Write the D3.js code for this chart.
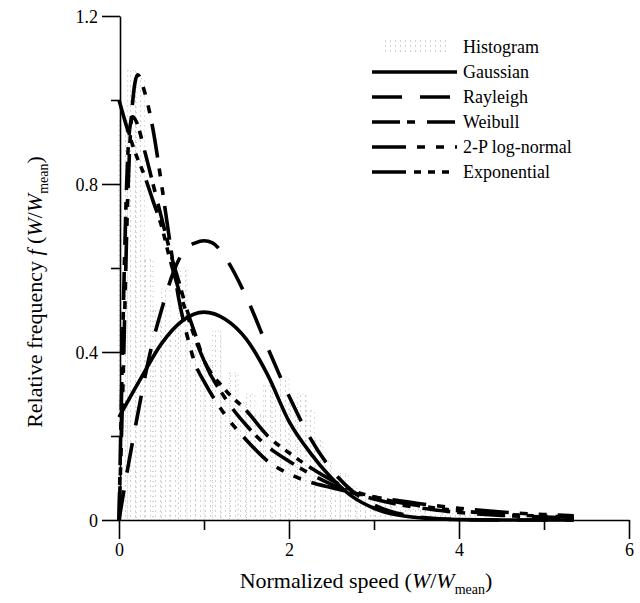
<!DOCTYPE html>
<html>
<head>
<meta charset="utf-8">
<script src="https://cdn.jsdelivr.net/npm/d3@7"></script>
<style>
body{margin:0;background:#fff;}
svg{display:block;font-family:"Liberation Serif","Times New Roman",serif;}
</style>
</head>
<body>
<script>
// histogram bins (start of bin, width 0.1)
var binStarts=[0,0.1,0.2,0.3,0.4,0.5,0.6,0.7,0.8,0.9,1.0,1.1,1.2,1.3,1.4,1.5,1.6,1.7,1.8,1.9,2.0,2.1,2.2,2.3,2.4,2.5,2.6,2.7,2.8,2.9,3.0,3.2,3.4,3.6,3.8,4.0,4.3,4.6,5.0];
var binHeights=[0.95,1.07,1.05,0.62,0.5,0.55,0.45,0.6,0.42,0.4,0.38,0.45,0.3,0.35,0.28,0.3,0.25,0.32,0.3,0.34,0.28,0.3,0.26,0.19,0.14,0.1,0.11,0.08,0.06,0.05,0.04,0.03,0.025,0.02,0.015,0.012,0.01,0.008,0.006];
var binEnds=[0.1,0.2,0.3,0.4,0.5,0.6,0.7,0.8,0.9,1.0,1.1,1.2,1.3,1.4,1.5,1.6,1.7,1.8,1.9,2.0,2.1,2.2,2.3,2.4,2.5,2.6,2.7,2.8,2.9,3.0,3.2,3.4,3.6,3.8,4.0,4.3,4.6,5.0,5.35];

var gaussian=[[0,0.245],[0.25,0.335],[0.5,0.42],[0.75,0.475],[1.0,0.495],[1.25,0.478],[1.5,0.43],[1.75,0.345],[2.0,0.235],[2.25,0.16],[2.5,0.1],[2.75,0.055],[3.0,0.028],[3.25,0.013],[3.5,0.006],[4.0,0.001],[4.5,0],[5.35,0]];
var rayleigh=[[0,0],[0.1,0.12],[0.2,0.23],[0.38,0.41],[0.5,0.5],[0.64,0.59],[0.76,0.64],[0.9,0.66],[1.0,0.665],[1.1,0.66],[1.25,0.625],[1.5,0.53],[1.75,0.41],[2.0,0.295],[2.25,0.195],[2.5,0.12],[2.75,0.068],[3.0,0.036],[3.5,0.008],[4.0,0.001],[4.5,0],[5.35,0]];
var weibull=[[0,0],[0.03,0.3],[0.06,0.58],[0.09,0.8],[0.12,0.92],[0.16,0.96],[0.2,0.95],[0.3,0.88],[0.4,0.8],[0.5,0.72],[0.6,0.64],[0.7,0.57],[0.8,0.5],[0.9,0.44],[1.0,0.38],[1.25,0.29],[1.5,0.225],[1.75,0.175],[2.0,0.14],[2.25,0.11],[2.5,0.085],[2.75,0.065],[3.0,0.05],[3.5,0.03],[4.0,0.018],[4.5,0.011],[5.0,0.007],[5.35,0.005]];
var lognormal=[[0,0],[0.05,0.35],[0.1,0.75],[0.15,0.97],[0.22,1.06],[0.3,1.02],[0.4,0.93],[0.5,0.8],[0.6,0.66],[0.7,0.53],[0.8,0.44],[0.9,0.37],[1.0,0.33],[1.25,0.25],[1.5,0.19],[1.75,0.14],[2.0,0.11],[2.25,0.09],[2.5,0.077],[2.75,0.065],[3.0,0.055],[3.5,0.04],[4.0,0.028],[4.5,0.019],[5.0,0.013],[5.35,0.01]];
var exponential=[[0,1.0],[0.1,0.93],[0.2,0.87],[0.3,0.82],[0.4,0.76],[0.5,0.7],[0.6,0.62],[0.7,0.55],[0.8,0.49],[0.9,0.43],[1.0,0.38],[1.25,0.31],[1.5,0.26],[1.75,0.2],[2.0,0.16],[2.25,0.125],[2.5,0.095],[2.75,0.07],[3.0,0.055],[3.5,0.035],[4.0,0.022],[4.5,0.014],[5.0,0.009],[5.35,0.007]];

var seriesNames=['Gaussian','Rayleigh','Weibull','2-P log-normal','Exponential'];
var seriesData=[gaussian,rayleigh,weibull,lognormal,exponential];
var seriesDash=['none','30,18','28,7,8,12','34,11,8,11,8,11','34,8,7,7,7,7,7,8'];

var xTicks=[0,1,2,3,4,5,6];
var yTicks=[0,0.2,0.4,0.6,0.8,1.0,1.2];

var width=640,height=603;
var svg=d3.select('body').append('svg')
    .attr('width',width)
    .attr('height',height);

// faint stipple used for the histogram bars
var defs=svg.append('defs');
var pat=defs.append('pattern')
    .attr('id','dots')
    .attr('patternUnits','userSpaceOnUse')
    .attr('width',5)
    .attr('height',5);
pat.append('rect').attr('x',0).attr('y',0).attr('width',1).attr('height',2).attr('fill','#d2d2d2');

var xScale=d3.scaleLinear().domain([0,6]).range([119,629]);
var yScale=d3.scaleLinear().domain([0,1.2]).range([520,16]);

// histogram
var hist=svg.append('g').attr('id','hist');
hist.selectAll('rect')
    .data(binStarts)
    .enter()
    .append('rect')
    .attr('x',(d)=>xScale(d))
    .attr('y',(d,i)=>yScale(binHeights[i]))
    .attr('width',(d,i)=>xScale(binEnds[i])-xScale(d))
    .attr('height',(d,i)=>yScale(0)-yScale(binHeights[i]))
    .style('fill','url(#dots)')
    .style('stroke','#c4c4c4')
    .style('stroke-width',1)
    .style('stroke-dasharray','1,4');

// axes
var xAxis=d3.axisBottom(xScale)
    .tickValues(xTicks)
    .tickSize(0)
    .tickFormat('');
var gx=svg.append('g')
    .attr('transform','translate(0,520)')
    .call(xAxis);
gx.select('.domain').attr('stroke','#000').attr('stroke-width',1.6);
gx.selectAll('.tick').append('line')
    .attr('y1',0)
    .attr('y2',(d)=>d%2==0?19:10)
    .attr('stroke','#000')
    .attr('stroke-width',1.6);
gx.selectAll('.tick').filter((d)=>d%2==0).append('text')
    .attr('y',36)
    .attr('fill','#000')
    .style('font-size','18px')
    .style('font-family','Liberation Serif')
    .attr('text-anchor','middle')
    .text((d)=>d);

var yAxis=d3.axisLeft(yScale)
    .tickValues(yTicks)
    .tickSize(0)
    .tickFormat('');
var gy=svg.append('g')
    .attr('transform','translate(120,0)')
    .call(yAxis);
gy.select('.domain').attr('stroke','#000').attr('stroke-width',1.6);
gy.selectAll('.tick').append('line')
    .attr('x1',0)
    .attr('x2',(d)=>Math.round(d*10)%4==0?-18:-9)
    .attr('stroke','#000')
    .attr('stroke-width',1.6);
gy.selectAll('.tick').filter((d)=>Math.round(d*10)%4==0).append('text')
    .attr('x',-22)
    .attr('dy','0.35em')
    .attr('fill','#000')
    .style('font-size','18px')
    .style('font-family','Liberation Serif')
    .attr('text-anchor','end')
    .text((d)=>d==0?'0':d3.format('.1f')(d));

// curves
var line=d3.line()
    .x((d)=>xScale(d[0]))
    .y((d)=>yScale(d[1]))
    .curve(d3.curveMonotoneX);

svg.append('g').selectAll('path')
    .data(seriesData)
    .enter()
    .append('path')
    .attr('d',line)
    .style('fill','none')
    .style('stroke','#000')
    .style('stroke-width',3.6)
    .style('stroke-dasharray',(d,i)=>seriesDash[i]);

// axis titles
var xt=svg.append('text')
    .attr('x',366)
    .attr('y',588)
    .attr('text-anchor','middle')
    .style('font-size','22px');
xt.append('tspan').text('Normalized speed (');
xt.append('tspan').style('font-style','italic').text('W');
xt.append('tspan').text('/');
xt.append('tspan').style('font-style','italic').text('W');
xt.append('tspan').attr('dy',6).style('font-size','14px').text('mean');
xt.append('tspan').attr('dy',-6).text(')');

var yt=svg.append('text')
    .attr('transform','translate(42,292) rotate(-90)')
    .attr('text-anchor','middle')
    .style('font-size','22px');
yt.append('tspan').text('Relative frequency ');
yt.append('tspan').style('font-style','italic').text('f');
yt.append('tspan').text(' (');
yt.append('tspan').style('font-style','italic').text('W');
yt.append('tspan').text('/');
yt.append('tspan').style('font-style','italic').text('W');
yt.append('tspan').attr('dy',6).style('font-size','14px').text('mean');
yt.append('tspan').attr('dy',-6).text(')');

// legend
var legend=svg.append('g').attr('id','legend');
legend.append('rect')
    .attr('x',385)
    .attr('y',40)
    .attr('width',65)
    .attr('height',15)
    .style('fill','url(#dots)');
legend.append('text')
    .attr('x',463)
    .attr('y',53)
    .style('font-size','18px')
    .text('Histogram');
seriesNames.forEach(function(name,i){
    var y=72+i*25;
    legend.append('line')
        .attr('x1',372)
        .attr('x2',457)
        .attr('y1',y)
        .attr('y2',y)
        .style('stroke','#000')
        .style('stroke-width',3.6)
        .style('stroke-dasharray',seriesDash[i]);
    legend.append('text')
        .attr('x',463)
        .attr('y',y+6)
        .style('font-size','18px')
        .text(name);
});
</script>
</body>
</html>
